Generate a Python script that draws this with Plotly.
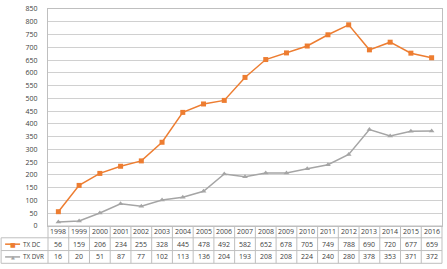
import plotly.graph_objects as go

years = ["1998","1999","2000","2001","2002","2003","2004","2005","2006","2007",
         "2008","2009","2010","2011","2012","2013","2014","2015","2016"]
tx_dc = [56,159,206,234,255,328,445,478,492,582,652,678,705,749,788,690,720,677,659]
tx_dvr = [16,20,51,87,77,102,113,136,204,193,208,208,224,240,280,378,353,371,372]
series_names = ["TX DC", "TX DVR"]
y_ticks = list(range(0, 851, 50))

ORANGE = "#ED7D31"
GRAY = "#A5A5A5"
GRID = "#D0D0D0"
BORDER = "#BFBFBF"
TXT = "#404040"
FONT = "Open Sans"

W, H = 447, 269
ML, MR, MT, MB = 48, 4, 5, 43
PW = W - ML - MR
PH = H - MT - MB

n = len(years)
xs = list(range(n))

fig = go.Figure()
fig.add_trace(go.Scatter(x=xs, y=tx_dc, mode="lines+markers", name=series_names[0],
                         line=dict(color=ORANGE, width=1.5),
                         marker=dict(symbol="square", size=5, color=ORANGE)))
fig.add_trace(go.Scatter(x=xs, y=tx_dvr, mode="lines+markers", name=series_names[1],
                         line=dict(color=GRAY, width=1.5),
                         marker=dict(symbol="triangle-up", size=5, color=GRAY)))

def px_x(px):
    return (px - ML) / PW

def px_y(py):
    return (H - MB - py) / PH

shapes = []
annotations = []

row_lines = [226, 238, 251, 264]
left_px = 1
shapes.append(dict(type="line", xref="paper", yref="paper", x0=0, x1=1,
                   y0=px_y(row_lines[0]), y1=px_y(row_lines[0]), line=dict(color=BORDER, width=1)))
for r in row_lines[1:]:
    shapes.append(dict(type="line", xref="paper", yref="paper", x0=px_x(left_px), x1=1,
                       y0=px_y(r), y1=px_y(r), line=dict(color=BORDER, width=1)))
for i in range(n + 1):
    shapes.append(dict(type="line", xref="paper", yref="paper", x0=i / n, x1=i / n,
                       y0=px_y(row_lines[0]), y1=px_y(row_lines[-1]), line=dict(color=BORDER, width=1)))
shapes.append(dict(type="line", xref="paper", yref="paper", x0=px_x(left_px), x1=px_x(left_px),
                   y0=px_y(row_lines[1]), y1=px_y(row_lines[-1]), line=dict(color=BORDER, width=1)))

def row_center(k):
    return px_y((row_lines[k] + row_lines[k + 1]) / 2)

def cell(x, y, text, size=7, color=TXT, family=FONT, xanchor="center"):
    return dict(x=x, y=y, xref="paper", yref="paper", text=text, showarrow=False,
                xanchor=xanchor, yanchor="middle",
                font=dict(size=size, color=color, family=family))

for i, yr in enumerate(years):
    cx = (i + 0.5) / n
    annotations.append(cell(cx, row_center(0), yr))
    annotations.append(cell(cx, row_center(1), str(tx_dc[i])))
    annotations.append(cell(cx, row_center(2), str(tx_dvr[i])))

for k, (name, col, sym) in enumerate([(series_names[0], ORANGE, "square"),
                                      (series_names[1], GRAY, "triangle")]):
    cy = row_center(k + 1)
    shapes.append(dict(type="line", xref="paper", yref="paper", x0=px_x(5), x1=px_x(20),
                       y0=cy, y1=cy, line=dict(color=col, width=1.5)))
    annotations.append(cell(px_x(12.5), cy, "■" if sym == "square" else "▲",
                            size=6 if sym == "square" else 5, color=col, family="DejaVu Sans"))
    annotations.append(cell(px_x(21), cy, name, size=6.3, xanchor="left"))

fig.update_layout(
    width=W, height=H,
    margin=dict(l=ML, r=MR, t=MT, b=MB),
    paper_bgcolor="white", plot_bgcolor="white",
    showlegend=False,
    shapes=shapes, annotations=annotations,
    font=dict(family=FONT, color=TXT),
    xaxis=dict(range=[-0.5, n - 0.5], showticklabels=False, showgrid=False, zeroline=False,
               showline=True, linecolor=BORDER, linewidth=1, mirror=True, ticks=""),
    yaxis=dict(range=[0, 850], tickvals=y_ticks, ticktext=[str(v) for v in y_ticks],
               showgrid=True, gridcolor=GRID, gridwidth=1, zeroline=False,
               showline=True, linecolor=BORDER, linewidth=1, mirror=True,
               ticks="", tickfont=dict(size=7, color=TXT, family=FONT), ticklabelstandoff=8),
)

fig.write_html("out.html", config={"displayModeBar": False},
               post_script="document.body.style.margin='0';document.body.style.overflow='hidden';")
